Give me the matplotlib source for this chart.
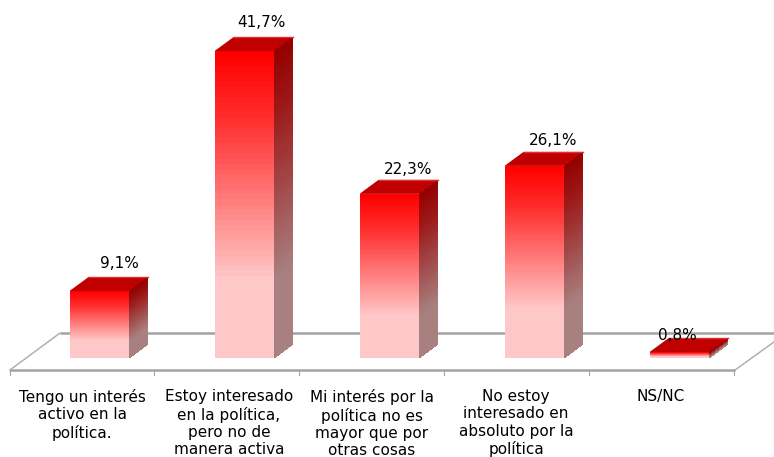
import matplotlib
matplotlib.use('Agg')
import matplotlib.pyplot as plt
import numpy as np
from matplotlib.colors import LinearSegmentedColormap

categories = ['Tengo un interés\nactivo en la\npolítica.',
              'Estoy interesado\nen la política,\npero no de\nmanera activa',
              'Mi interés por la\npolítica no es\nmayor que por\notras cosas',
              'No estoy\ninteresado en\nabsoluto por la\npolítica',
              'NS/NC']
values = [9.1, 41.7, 22.3, 26.1, 0.8]
labels = ['9,1%', '41,7%', '22,3%', '26,1%', '0,8%']

W, H = 774, 457
px_x = 145.0       # pixels per category
px_y = 7.36        # pixels per percent
x0 = 99            # pixel centre of first bar
y0 = 358           # pixel of zero line
bar_w = 59 / px_x
dx = 19 / px_x     # 3d depth
dy = 14 / px_y

front = LinearSegmentedColormap.from_list('front', [(0, '#ffc8c8'), (0.25, '#ffc8c8'), (0.8, '#ff2a2a'), (1, '#ff0000')])
side = LinearSegmentedColormap.from_list('side', [(0, '#a88080'), (0.25, '#a88080'), (0.8, '#9c1a1a'), (1, '#960000')])


def px(x, y):
    return (x - x0) / px_x, (y0 - y) / px_y


fig = plt.figure(figsize=(W / 100, H / 100), dpi=100)
ax = fig.add_axes([0, 0, 1, 1])
ax.set_xlim(px(0, 0)[0], px(W, 0)[0])
ax.set_ylim(px(0, H)[1], px(0, 0)[1])
ax.axis('off')

# floor
grey = '#a3a3a3'
for a, b in [((10, 370), (735, 370)), ((60, 333), (774, 333))]:
    p, q = px(*a), px(*b)
    ax.plot([p[0], q[0]], [p[1], q[1]], color=grey, lw=1.8, zorder=1, solid_capstyle='butt')
for a, b in [((10, 370), (60, 333)), ((735, 370), (774, 342))]:
    p, q = px(*a), px(*b)
    ax.plot([p[0], q[0]], [p[1], q[1]], color='#b0b0b0', lw=1.1, zorder=1)
for t in [10, 154, 299, 444, 589, 734]:
    p, q = px(t, 370), px(t, 375)
    ax.plot([p[0], q[0]], [p[1], q[1]], color=grey, lw=0.8, zorder=1)

# bars
grad = np.linspace(0, 1, 60).reshape(-1, 1)
for i, v in enumerate(values):
    l, r = i - bar_w / 2, i + bar_w / 2
    ys = np.linspace(0, v, 61)
    # front face
    X, Y = np.meshgrid([l, r], ys)
    ax.pcolormesh(X, Y, grad, cmap=front, vmin=0, vmax=1, zorder=3, shading='flat')
    # side face
    X = np.column_stack([np.full(61, r), np.full(61, r + dx)])
    Y = np.column_stack([ys, ys + dy])
    ax.pcolormesh(X, Y, grad, cmap=side, vmin=0, vmax=1, zorder=2.5, shading='flat')
    # top face
    ax.fill([l, r, r + dx, l + dx], [v, v, v + dy, v + dy], color='#c00000', lw=0, zorder=3)
    ax.plot([l + dx, r + dx], [v + dy, v + dy], color='#e03030', lw=1, zorder=3)

# value labels
label_pos = [(119, 264), (261, 22), (408, 169), (553, 140), (677, 336)]
for s, (a, b) in zip(labels, label_pos):
    p = px(a, b)
    ax.text(p[0], p[1], s, ha='center', va='center', fontsize=11, color='#000000', zorder=5)

# category labels
label_x = [82, 229, 372, 516, 661]
for c, a in zip(categories, label_x):
    p = px(a, 389)
    ax.text(p[0], p[1], c, ha='center', va='top', fontsize=11, color='#000000',
            linespacing=1.2, clip_on=True, zorder=5)

fig.savefig('out.png', dpi=100)
